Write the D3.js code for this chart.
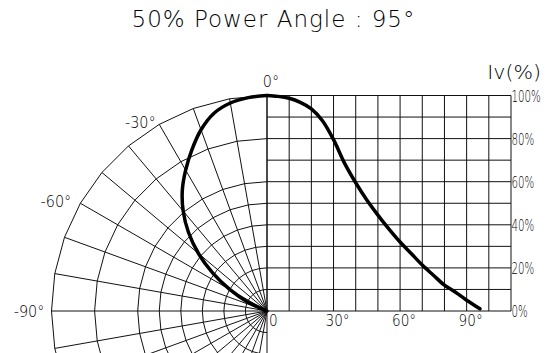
<!DOCTYPE html>
<html>
<head>
<meta charset="utf-8">
<script src="https://cdn.jsdelivr.net/npm/d3@7"></script>
<style>
  html, body { margin: 0; padding: 0; background: #fff; }
  svg { display: block; }
  text { font-family: "DejaVu Sans", sans-serif; font-weight: 200; fill: #000; }
</style>
</head>
<body>
<svg id="chart" width="550" height="353"></svg>
<script>
// ---- data ----
const title = "50% Power Angle : 95°";
// right-hand (cartesian) intensity curve
const angles    = [0, 5, 10, 15, 20, 25, 30, 35, 40, 45, 50, 55, 60, 65, 70, 75, 80, 85, 90, 96];
const intensity = [100, 99.6, 98.7, 96.8, 93.8, 88.3, 79.5, 68.5, 59.5, 51.5, 44.5, 38, 32, 26.7, 21.3, 16.6, 12, 8.7, 5, 1];
// left-hand (polar) curve as drawn in the reference
const polarAngles    = [0, 5, 10, 15, 20, 25, 30, 35, 40, 45, 50, 55, 60, 65, 69];
const polarIntensity = [100, 99.4, 98, 95, 89.5, 82.5, 75.5, 68.5, 60.5, 51.5, 41.5, 30.8, 20, 10, 0];
const xTickValues = [0, 30, 60, 90];
const xTickLabels = ["0", "30°", "60°", "90°"];
const yTickValues = [0, 20, 40, 60, 80, 100];
const yTickLabels = ["0%", "20%", "40%", "60%", "80%", "100%"];
const polarLabelAngles = [-90, -60, -30, 0];
const polarLabelTexts = ["-90°", "-60°", "-30°", "0°"];
const arcLevels = [10, 20, 30, 40, 50, 60, 80, 100];
const yAxisTitle = "Iv(%)";

// ---- layout ----
const cx = 267, cy = 311, R = 215.5;
const svg = d3.select("#chart");
const x = d3.scaleLinear().domain([0, 110]).range([cx, 511]);
const y = d3.scaleLinear().domain([0, 100]).range([cy, cy - R]);
const r = d3.scaleLinear().domain([0, 100]).range([0, R]);
const rad = d => d * Math.PI / 180;
const gridColor = "#111";

// ---- polar grid (left) ----
const polar = svg.append("g").attr("transform", `translate(${cx},${cy})`);
const spokes = d3.range(0, -181, -10);
polar.selectAll("line.spoke").data(spokes).join("line")
  .attr("class", "spoke")
  .attr("x1", 0).attr("y1", 0)
  .attr("x2", a => r(100) * Math.sin(rad(a)))
  .attr("y2", a => -r(100) * Math.cos(rad(a)))
  .attr("stroke", gridColor).attr("stroke-width", 1);

const arcLine = d3.lineRadial().curve(d3.curveLinear);
polar.selectAll("path.arc").data(arcLevels).join("path")
  .attr("class", "arc")
  .attr("d", lv => arcLine(spokes.map(a => [rad(a), r(lv)])))
  .attr("fill", "none").attr("stroke", gridColor).attr("stroke-width", 1);

// ---- cartesian grid (right) ----
const cart = svg.append("g");
cart.selectAll("line.v").data(d3.range(0, 111, 10)).join("line")
  .attr("class", "v")
  .attr("x1", d => x(d)).attr("x2", d => x(d))
  .attr("y1", y(0)).attr("y2", y(100))
  .attr("stroke", gridColor).attr("stroke-width", 1);
cart.selectAll("line.h").data(d3.range(0, 101, 10)).join("line")
  .attr("class", "h")
  .attr("x1", x(0)).attr("x2", x(110))
  .attr("y1", d => y(d)).attr("y2", d => y(d))
  .attr("stroke", gridColor).attr("stroke-width", 1);

// ---- curves ----
const smooth = d3.curveCatmullRom.alpha(0.5);
const pts = angles.map((a, i) => [a, intensity[i]]);
svg.append("path")
  .attr("d", d3.line().x(d => x(d[0])).y(d => y(d[1])).curve(smooth)(pts))
  .attr("fill", "none").attr("stroke", "#000").attr("stroke-width", 3.5)
  .attr("stroke-linejoin", "round").attr("stroke-linecap", "round");

const ppts = polarAngles.map((a, i) => [a, polarIntensity[i]]);
polar.append("path")
  .attr("d", d3.lineRadial().angle(d => rad(-d[0])).radius(d => r(d[1])).curve(smooth)(ppts))
  .attr("fill", "none").attr("stroke", "#000").attr("stroke-width", 3.5)
  .attr("stroke-linejoin", "round").attr("stroke-linecap", "round");

// ---- labels ----
function squeeze(sel, k) {
  sel.each(function () {
    const w = this.getComputedTextLength();
    d3.select(this).attr("textLength", w * k).attr("lengthAdjust", "spacingAndGlyphs");
  });
}

svg.append("text").attr("x", 273).attr("y", 27)
  .attr("text-anchor", "middle").attr("font-size", 23)
  .attr("textLength", 283).attr("lengthAdjust", "spacing")
  .text(title);

svg.selectAll("text.xt").data(xTickValues).join("text")
  .attr("class", "xt")
  .attr("x", (d, i) => i === 0 ? x(d) + 2 : x(d) + 4)
  .attr("y", 326)
  .attr("text-anchor", (d, i) => i === 0 ? "start" : "middle")
  .attr("font-size", 16)
  .text((d, i) => xTickLabels[i])
  .call(squeeze, 0.85);

svg.selectAll("text.yt").data(yTickValues).join("text")
  .attr("class", "yt")
  .attr("x", x(110) + 0.5)
  .attr("y", d => y(d) + 6)
  .attr("font-size", 16)
  .text((d, i) => yTickLabels[i])
  .call(squeeze, 0.64);

svg.append("text").attr("x", 541).attr("y", 79)
  .attr("text-anchor", "end").attr("font-size", 19)
  .text(yAxisTitle)
  .call(squeeze, 1.08);

svg.selectAll("text.pl").data(polarLabelAngles).join("text")
  .attr("class", "pl")
  .attr("x", a => a === 0 ? cx + 4 : cx + (R + 7) * Math.sin(rad(a)) - (a === -60 ? 3 : 0))
  .attr("y", a => a === 0 ? 87 : cy - (R + 7) * Math.cos(rad(a)) + 6 + (a === -30 ? 4 : 0) + (a === -60 ? 1 : 0))
  .attr("text-anchor", a => a === 0 ? "middle" : "end")
  .attr("font-size", 16)
  .text((a, i) => polarLabelTexts[i])
  .call(squeeze, 0.9);
</script>
</body>
</html>
